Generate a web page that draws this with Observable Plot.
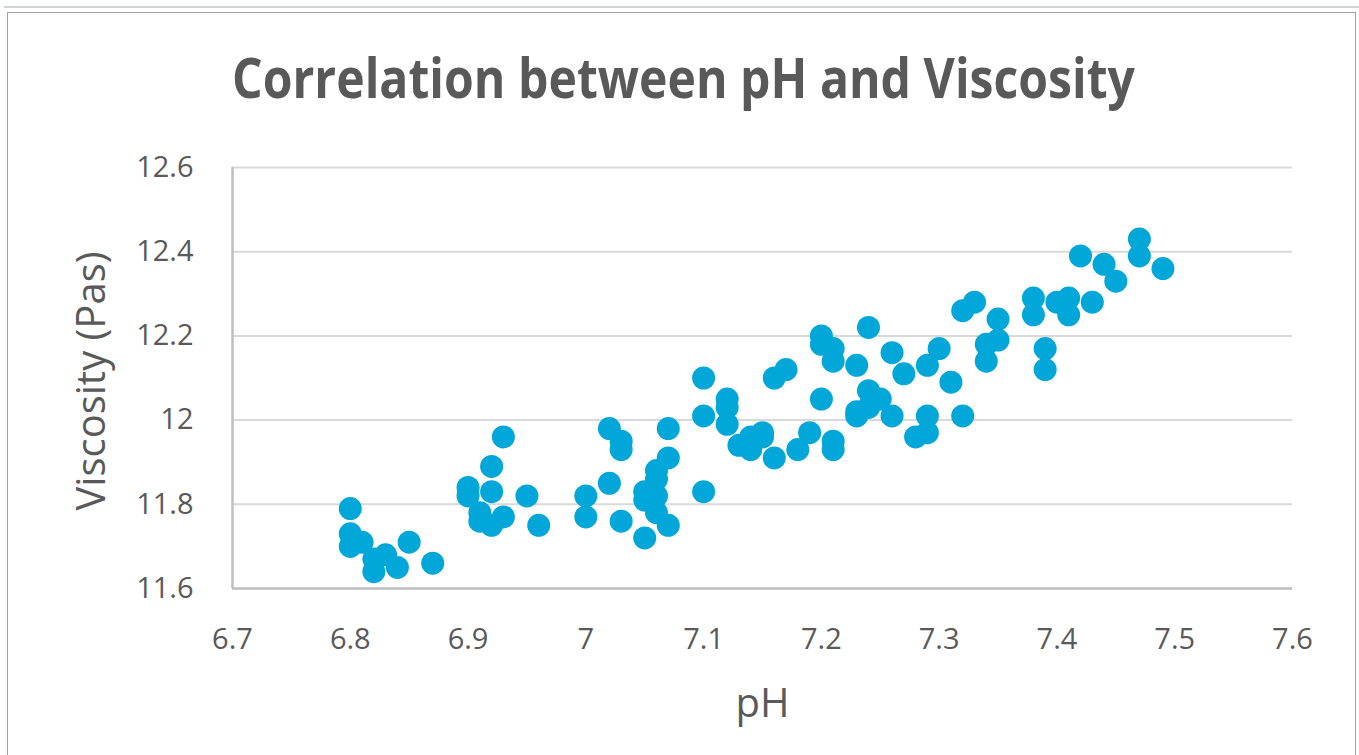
<!DOCTYPE html>
<html>
<head>
<meta charset="utf-8">
<script src="https://cdn.jsdelivr.net/npm/d3@7"></script>
<script src="https://cdn.jsdelivr.net/npm/@observablehq/plot@0.6"></script>
<style>
  html, body { margin: 0; padding: 0; background: #fff; }
  #wrap { position: relative; width: 1359px; height: 755px; overflow: hidden; }
  #topline { position: absolute; left: 4px; top: 6px; width: 1355px; height: 0; border-top: 2px solid #cfd4d6; }
  #frame { position: absolute; left: 7px; top: 12px; width: 1347px; height: 760px; border: 1px solid #a3a3a3; }
  #chart { position: absolute; left: 0; top: 0; }
</style>
</head>
<body>
<div id="wrap">
  <div id="topline"></div>
  <div id="frame"></div>
  <div id="chart"></div>
</div>
<script>
const title = "Correlation between pH and Viscosity";
const xLabel = "pH";
const yLabel = "Viscosity (Pas)";
const xTicks = [6.7, 6.8, 6.9, 7.0, 7.1, 7.2, 7.3, 7.4, 7.5, 7.6];
const yTicks = [11.6, 11.8, 12.0, 12.2, 12.4, 12.6];

const ph = [
  6.80, 6.80, 6.80, 6.81, 6.82, 6.82, 6.83, 6.84, 6.85, 6.87,
  6.90, 6.90, 6.91, 6.91, 6.92, 6.92, 6.92, 6.93, 6.93, 6.95, 6.96,
  7.00, 7.00, 7.02, 7.02, 7.03, 7.03, 7.03, 7.05, 7.05, 7.05,
  7.06, 7.06, 7.06, 7.06, 7.07, 7.07, 7.07,
  7.10, 7.10, 7.10, 7.12, 7.12, 7.12, 7.13, 7.14, 7.14, 7.15, 7.15,
  7.16, 7.16, 7.17, 7.18, 7.19,
  7.20, 7.20, 7.20, 7.21, 7.21, 7.21, 7.21,
  7.23, 7.23, 7.23, 7.24, 7.24, 7.24, 7.25, 7.26, 7.26, 7.27, 7.28,
  7.29, 7.29, 7.29, 7.30, 7.31, 7.32, 7.32, 7.33, 7.34, 7.34, 7.35, 7.35,
  7.38, 7.38, 7.39, 7.39, 7.40, 7.41, 7.41, 7.42, 7.43, 7.44, 7.45,
  7.47, 7.47, 7.49
];
const viscosity = [
  11.79, 11.73, 11.70, 11.71, 11.67, 11.64, 11.68, 11.65, 11.71, 11.66,
  11.84, 11.82, 11.78, 11.76, 11.89, 11.83, 11.75, 11.96, 11.77, 11.82, 11.75,
  11.82, 11.77, 11.98, 11.85, 11.95, 11.93, 11.76, 11.72, 11.83, 11.81,
  11.88, 11.86, 11.82, 11.78, 11.98, 11.91, 11.75,
  12.10, 12.01, 11.83, 12.05, 12.03, 11.99, 11.94, 11.93, 11.96, 11.97, 11.96,
  12.10, 11.91, 12.12, 11.93, 11.97,
  12.20, 12.18, 12.05, 12.17, 12.14, 11.95, 11.93,
  12.13, 12.02, 12.01, 12.22, 12.07, 12.03, 12.05, 12.16, 12.01, 12.11, 11.96,
  12.13, 12.01, 11.97, 12.17, 12.09, 12.26, 12.01, 12.28, 12.18, 12.14, 12.24, 12.19,
  12.29, 12.25, 12.17, 12.12, 12.28, 12.29, 12.25, 12.39, 12.28, 12.37, 12.33,
  12.43, 12.39, 12.36
];

const data = ph.map((p, i) => ({ph: p, v: viscosity[i]}));
const fmt = d => String(+d.toFixed(1));
const textColor = "#595959";
const font = "'Open Sans', sans-serif";

const chart = Plot.plot({
  width: 1359,
  height: 755,
  marginLeft: 232,
  marginRight: 67,
  marginTop: 167,
  marginBottom: 167,
  style: { fontFamily: font, color: textColor, background: "transparent", overflow: "visible" },
  x: { domain: [6.7, 7.6] },
  y: { domain: [11.6, 12.6] },
  marks: [
    Plot.gridY(yTicks, { stroke: "#d9d9d9", strokeOpacity: 1, strokeWidth: 2 }),
    Plot.ruleY([11.6], { stroke: "#bfbfbf", strokeWidth: 2.5 }),
    Plot.ruleX([6.7], { stroke: "#bfbfbf", strokeWidth: 2.5 }),
    Plot.axisX(xTicks, { tickSize: 0, tickPadding: 40, fontSize: 29, fill: textColor, tickFormat: fmt, label: null }),
    Plot.axisY(yTicks, { tickSize: 0, tickPadding: 39, fontSize: 29, fill: textColor, tickFormat: fmt, label: null }),
    Plot.dot(data, { x: "ph", y: "v", r: 11.5, fill: "#00a7d8", stroke: "none" }),
    Plot.text([title], { frameAnchor: "top", textAnchor: "middle", lineAnchor: "middle", dx: -79, dy: -87, fontSize: 55, fontWeight: 700, fill: textColor, fontFamily: font, className: "chart-title" }),
    Plot.text([xLabel], { frameAnchor: "bottom", textAnchor: "middle", lineAnchor: "middle", dy: 116, fontSize: 40, fill: textColor, fontFamily: font }),
    Plot.text([yLabel], { frameAnchor: "left", textAnchor: "middle", lineAnchor: "middle", dx: -140, dy: 3, rotate: -90, fontSize: 40, fill: textColor, fontFamily: font })
  ]
});
document.getElementById("chart").appendChild(chart);
// condense the title to the width it has in the reference
d3.select(chart).selectAll("g.chart-title text, .chart-title text")
  .attr("textLength", 903)
  .attr("lengthAdjust", "spacingAndGlyphs");
</script>
</body>
</html>
